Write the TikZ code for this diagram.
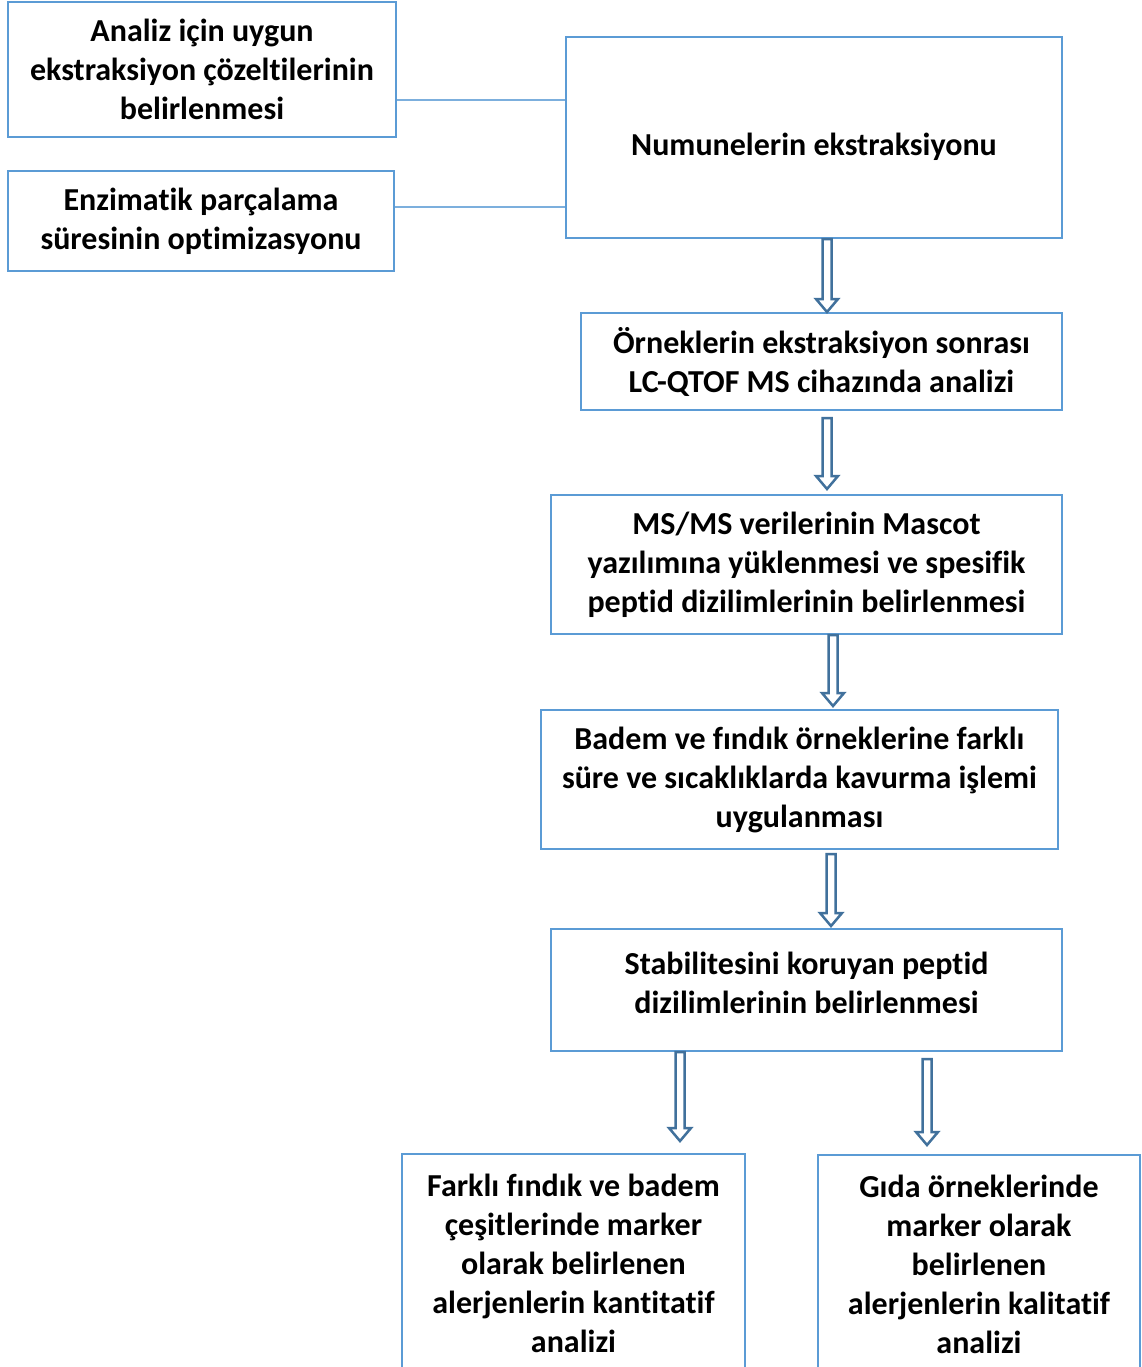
\documentclass[tikz,border=0pt]{standalone}
\usepackage{fontspec}
\setmainfont[Ligatures=NoCommon]{Carlito}
\usetikzlibrary{calc}
\definecolor{boxblue}{HTML}{5B9BD5}
\definecolor{arrowblue}{HTML}{41719C}
\tikzset{
    stepbox/.style={draw=boxblue, line width=2pt, fill=white, align=center, inner sep=0pt},
    link/.style={draw=boxblue!80, line width=1.5pt},
    blockarrow/.style={draw=arrowblue, line width=2.5pt, fill=white, line join=miter}
}
% hollow block arrow from tail #1 to tip #2
\newcommand{\hollowarrow}[2]{%
    \draw[blockarrow] ($(#1)+(-4.5,0)$) -- ($(#2)+(-4.5,-13)$) -- ($(#2)+(-11,-13)$) -- (#2)
        -- ($(#2)+(11,-13)$) -- ($(#2)+(4.5,-13)$) -- ($(#1)+(4.5,0)$) -- cycle;}
\begin{document}
\begin{tikzpicture}[x=1pt, y=-1pt, font=\fontsize{32}{39}\selectfont\bfseries, every node/.style={anchor=center}]
    \useasboundingbox (0,0) rectangle (1141,1367);
    \clip (0,0) rectangle (1141,1367);
        \node[stepbox, minimum width=388pt, minimum height=135pt] (analiz) at (202, 69.5) {Analiz için uygun\\ekstraksiyon çözeltilerinin\\belirlenmesi};
        \node[stepbox, minimum width=386pt, minimum height=100pt] (enzim) at (201, 221) {Enzimatik parçalama\\süresinin optimizasyonu};
        \node[stepbox, minimum width=496pt, minimum height=201pt, label={[yshift=-9pt]center:Numunelerin ekstraksiyonu}] (numune) at (814, 137.5) {};
        \node[stepbox, minimum width=481pt, minimum height=97pt] (ornek) at (821.5, 361.5) {Örneklerin ekstraksiyon sonrası\\LC-QTOF MS cihazında analizi};
        \node[stepbox, minimum width=511pt, minimum height=139pt] (mascot) at (806.5, 564.5) {MS/MS verilerinin Mascot\\yazılımına yüklenmesi ve spesifik\\peptid dizilimlerinin belirlenmesi};
        \node[stepbox, minimum width=517pt, minimum height=139pt] (kavurma) at (799.5, 779.5) {Badem ve fındık örneklerine farklı\\süre ve sıcaklıklarda kavurma işlemi\\uygulanması};
        \node[stepbox, minimum width=511pt, minimum height=122pt, label={[align=center, yshift=7.5pt]center:Stabilitesini koruyan peptid\\dizilimlerinin belirlenmesi}] (stabil) at (806.5, 990) {};
        \node[stepbox, minimum width=343pt, minimum height=218pt] (kanti) at (573.5, 1263) {Farklı fındık ve badem\\çeşitlerinde marker\\olarak belirlenen\\alerjenlerin kantitatif\\analizi};
        \node[stepbox, minimum width=322pt, minimum height=218pt] (kali) at (979, 1264) {Gıda örneklerinde\\marker olarak\\belirlenen\\alerjenlerin kalitatif\\analizi};
    % side links
    \draw[link] ([yshift=-30.5pt]analiz.east) -- ([yshift=-30.5pt]analiz.east -| numune.west);
    \draw[link] ([yshift=14pt]enzim.east) -- ([yshift=14pt]enzim.east -| numune.west);
    % arrows
    \coordinate (t1) at (827,0 |- numune.south);
    \coordinate (h1) at (827,0 |- ornek.north);
    \coordinate (t2) at ($(827,0 |- ornek.south)+(0,7)$);
    \coordinate (h2) at ($(827,0 |- mascot.north)+(0,-5)$);
    \coordinate (t3) at (833,0 |- mascot.south);
    \coordinate (h3) at ($(833,0 |- kavurma.north)+(0,-3)$);
    \coordinate (t4) at ($(831,0 |- kavurma.south)+(0,4)$);
    \coordinate (h4) at ($(831,0 |- stabil.north)+(0,-2)$);
    \coordinate (t5) at (680,0 |- stabil.south);
    \coordinate (h5) at ($(680,0 |- kanti.north)+(0,-12)$);
    \coordinate (t6) at ($(927,0 |- stabil.south)+(0,7)$);
    \coordinate (h6) at ($(927,0 |- kali.north)+(0,-9)$);
    \hollowarrow{t1}{h1}
    \hollowarrow{t2}{h2}
    \hollowarrow{t3}{h3}
    \hollowarrow{t4}{h4}
    \hollowarrow{t5}{h5}
    \hollowarrow{t6}{h6}
\end{tikzpicture}
\end{document}
